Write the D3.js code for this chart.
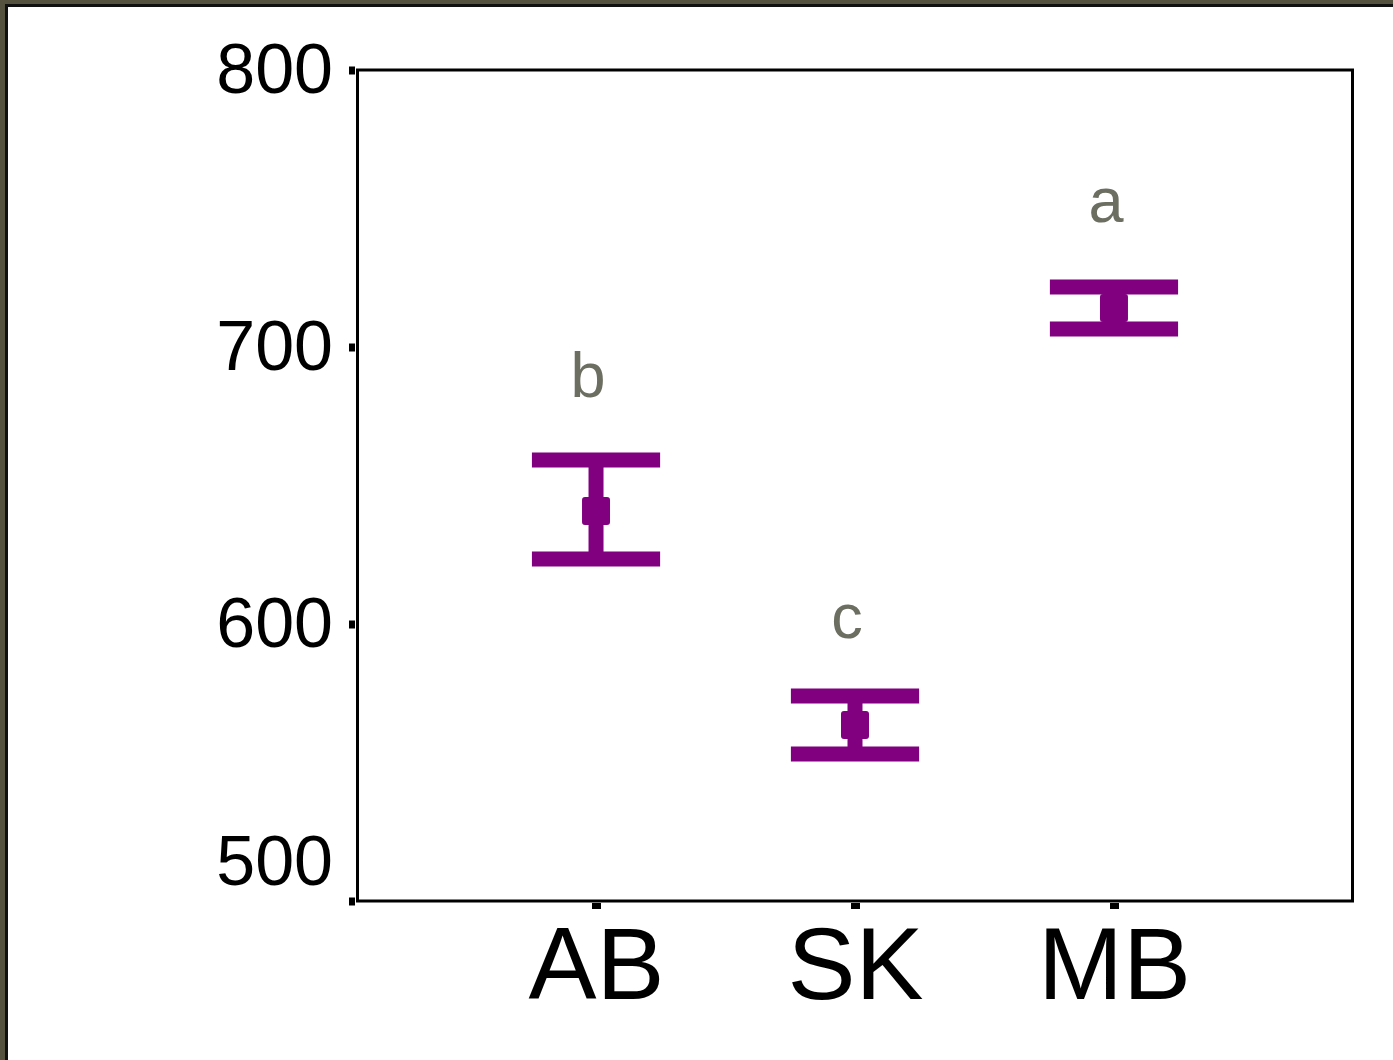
<!doctype html>
<html lang="en">
<head>
    <meta charset="utf-8">
    <title>Error bar chart</title>
    <script src="https://d3js.org/d3.v7.min.js"></script>
    <style>
        body { margin: 0; background: #fff; }
        text { font-family: "Liberation Sans", Arial, sans-serif; }
    </style>
</head>
<body>
    <div id="my_dataviz"></div>

    <script>
        // data
        var categories = ["AB", "SK", "MB"]
        var means = [640.8, 563.5, 714.1]
        var lower = [623.5, 553.1, 706.5]
        var upper = [659.2, 574.0, 721.7]
        var letters = ["b", "c", "a"]
        var letterY = [682, 595, 745]
        var yTicks = [500, 600, 700, 800]

        var width = 1393
        var height = 1060
        var purple = "#800080"

        var svg = d3.select("#my_dataviz")
            .append("svg")
            .attr("width", width)
            .attr("height", height)

        // dark frame round the picture
        svg.append("rect")
            .attr("x", 0).attr("y", 0)
            .attr("width", width + 20).attr("height", height + 20)
            .attr("fill", "none")
            .attr("stroke", "#55533f")
            .attr("stroke-width", 10)
        svg.append("rect")
            .attr("x", 6.5).attr("y", 5.5)
            .attr("width", width).attr("height", height)
            .attr("fill", "none")
            .attr("stroke", "#111")
            .attr("stroke-width", 3)

        var x = d3.scalePoint()
            .domain(categories)
            .range([357.5, 1352.5])
            .padding(0.921)

        var y = d3.scaleLinear()
            .domain([500, 800])
            .range([901, 70])

        // y axis
        var yAxis = svg.append("g")
            .attr("transform", "translate(355,0)")
            .call(d3.axisLeft(y).tickValues(yTicks).tickSize(6).tickPadding(16))
        yAxis.select(".domain").remove()
        yAxis.selectAll(".tick line").attr("stroke", "#000").attr("stroke-width", 8)
        yAxis.selectAll(".tick text")
            .attr("fill", "#000")
            .style("font-size", "70px")
            .attr("dy", function (d) { return d === 500 ? "-0.24em" : "0.32em" })

        // x axis
        var xAxis = svg.append("g")
            .attr("transform", "translate(0,903)")
            .call(d3.axisBottom(x).tickSize(6).tickPadding(18))
        xAxis.select(".domain").remove()
        xAxis.selectAll(".tick line").attr("stroke", "#000").attr("stroke-width", 9)
        xAxis.selectAll(".tick text")
            .attr("fill", "#000")
            .style("font-size", "102px")

        // panel border
        svg.append("rect")
            .attr("x", x.range()[0])
            .attr("y", y.range()[1])
            .attr("width", x.range()[1] - x.range()[0])
            .attr("height", y.range()[0] - y.range()[1])
            .attr("fill", "none")
            .attr("stroke", "#000")
            .attr("stroke-width", 3)

        var capW = x.step() * 0.495
        var bars = svg.append("g")
            .selectAll("g")
            .data(categories)
            .enter()
            .append("g")

        // whisker
        bars.append("line")
            .attr("x1", function (d) { return x(d) })
            .attr("x2", function (d) { return x(d) })
            .attr("y1", function (d, i) { return y(upper[i]) })
            .attr("y2", function (d, i) { return y(lower[i]) })
            .attr("stroke", purple)
            .attr("stroke-width", 15)

        // caps
        ;[upper, lower].forEach(function (arr) {
            bars.append("line")
                .attr("x1", function (d) { return x(d) - capW / 2 })
                .attr("x2", function (d) { return x(d) + capW / 2 })
                .attr("y1", function (d, i) { return y(arr[i]) })
                .attr("y2", function (d, i) { return y(arr[i]) })
                .attr("stroke", purple)
                .attr("stroke-width", 15)
        })

        // mean point
        bars.append("rect")
            .attr("x", function (d) { return x(d) - 14 })
            .attr("y", function (d, i) { return y(means[i]) - 14 })
            .attr("width", 28)
            .attr("height", 28)
            .attr("rx", 3)
            .attr("fill", purple)

        // group letters
        bars.append("text")
            .attr("x", function (d) { return x(d) - 8 })
            .attr("y", function (d, i) { return y(letterY[i]) })
            .attr("text-anchor", "middle")
            .attr("fill", "#6b6e60")
            .style("font-size", "63px")
            .text(function (d, i) { return letters[i] })
    </script>
</body>
</html>
